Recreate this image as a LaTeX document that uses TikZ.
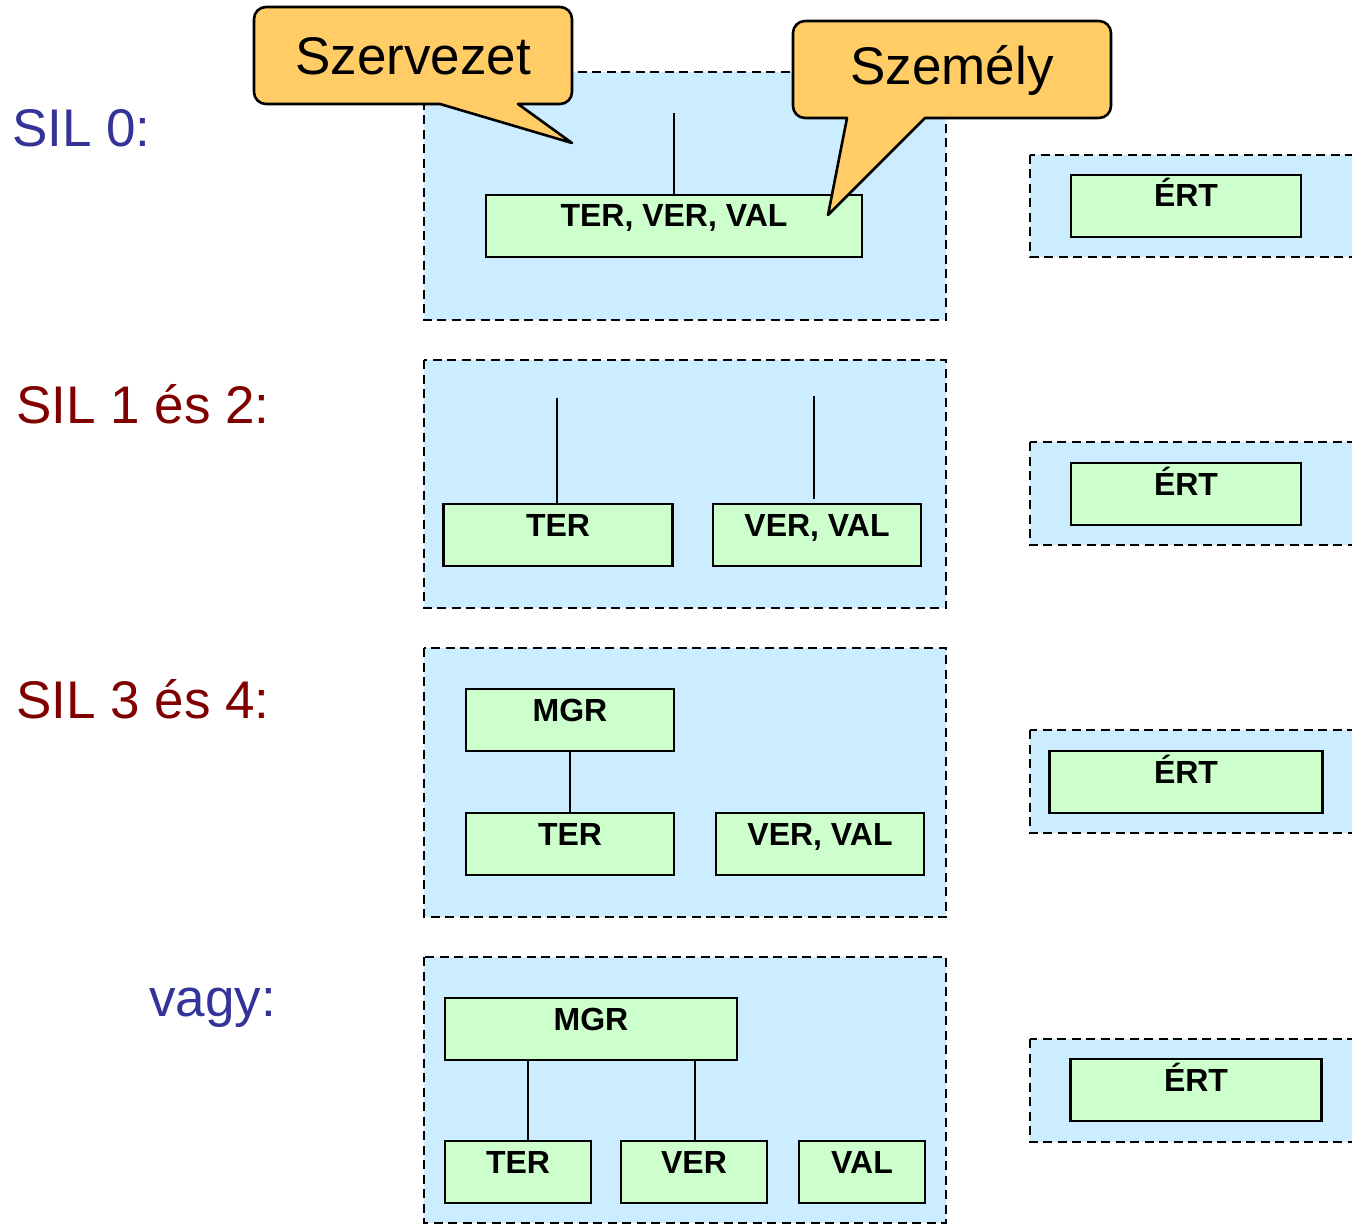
\documentclass[tikz,border=0pt]{standalone}
\usepackage{fontspec}
\setmainfont{Liberation Sans}
\definecolor{lblue}{HTML}{CCECFF}
\definecolor{lgreen}{HTML}{CCFFCC}
\definecolor{corange}{HTML}{FFCC66}
\definecolor{tblue}{HTML}{333399}
\definecolor{tred}{HTML}{800000}
\tikzset{
  zone/.style={draw=black, fill=lblue, line width=2.8pt, dash pattern=on 9pt off 5.5pt},
  gbox/.style={draw=black, fill=lgreen, line width=2.6pt, rectangle, inner sep=0pt,
    minimum height=62pt, text height=32pt, text depth=30pt,
    font=\fontsize{32}{32}\selectfont\bfseries},
  link/.style={draw=black, line width=2.2pt},
  callout/.style={draw=black, fill=corange, line width=2.6pt, line join=round},
  calltext/.style={font=\fontsize{53}{53}\selectfont, inner sep=0pt},
  siltext/.style={font=\fontsize{53}{53}\selectfont, inner sep=0pt, anchor=base west}
}
\begin{document}
\begin{tikzpicture}[x=1pt,y=-1pt]
\useasboundingbox (0,0) rectangle (1352,1225);
\clip (0,0) rectangle (1352,1225);
\fill[white] (0,0) rectangle (1352,1225);

% dashed zones
\path[zone] (424,72) rectangle (946,320);
\path[zone] (424,360) rectangle (946,608);
\path[zone] (424,648) rectangle (946,917);
\path[zone] (424,957) rectangle (946,1223);
\path[zone] (1030,155) rectangle (1380,257);
\path[zone] (1030,442) rectangle (1380,545);
\path[zone] (1030,730) rectangle (1380,833);
\path[zone] (1030,1039) rectangle (1380,1142);

% labels
\node[siltext, text=tblue] (sil0) at (12,147) {SIL 0:};
\node[siltext, text=tred] (sil12) at (16,423) {SIL 1 és 2:};
\node[siltext, text=tred] (sil34) at (16,718) {SIL 3 és 4:};
\node[siltext, text=tblue] (vagy) at (149,1016) {vagy:};

% row 0
\node[gbox, minimum width=376pt] (tvv) at (674,226) {TER, VER, VAL};
\node[gbox, minimum width=230pt] (ert0) at (1186,206) {ÉRT};
\coordinate (top0) at (674,113);
\draw[link] (top0) -- (tvv.north);

% row 1
\node[gbox, minimum width=229pt] (ter1) at (558,535) {TER};
\node[gbox, minimum width=208pt] (vv1) at (817,535) {VER, VAL};
\node[gbox, minimum width=230pt] (ert1) at (1186,494) {ÉRT};
\coordinate (top1a) at (557,398);
\coordinate (top1b) at (814,396);
\draw[link] (top1a) -- (top1a |- ter1.north);
\draw[link] (top1b) -- ([yshift=4pt]top1b |- vv1.north);

% row 2
\node[gbox, minimum width=208pt] (mgr2) at (570,720) {MGR};
\node[gbox, minimum width=208pt] (ter2) at (570,844) {TER};
\node[gbox, minimum width=208pt] (vv2) at (820,844) {VER, VAL};
\node[gbox, minimum width=273pt] (ert2) at (1186,782) {ÉRT};
\draw[link] (mgr2.south) -- (ter2.north);

% row 3
\node[gbox, minimum width=292pt] (mgr3) at (591,1029) {MGR};
\node[gbox, minimum width=146pt] (ter3) at (518,1172) {TER};
\node[gbox, minimum width=146pt] (ver3) at (694,1172) {VER};
\node[gbox, minimum width=126pt] (val3) at (862,1172) {VAL};
\node[gbox, minimum width=251pt] (ert3) at (1196,1090) {ÉRT};
\coordinate (x3a) at (528,0);
\coordinate (x3b) at (695,0);
\draw[link] (mgr3.south -| x3a) -- (ter3.north -| x3a);
\draw[link] (mgr3.south -| x3b) -- (ver3.north -| x3b);

% callouts
\draw[callout] (440,104) -- (572,143) -- (518,104) -- (545,104)
  [rounded corners=12pt] -- (572,104) -- (572,7) -- (254,7) -- (254,104) -- (400,104)
  [sharp corners] -- cycle;
\node[calltext] (szervezet) at (413,56) {Szervezet};

\draw[callout] (847,118) -- (828,215) -- (925,118) -- (950,118)
  [rounded corners=12pt] -- (1111,118) -- (1111,21) -- (793,21) -- (793,118) -- (820,118)
  [sharp corners] -- cycle;
\node[calltext] (szemely) at (952,70) {Személy};
\end{tikzpicture}
\end{document}
